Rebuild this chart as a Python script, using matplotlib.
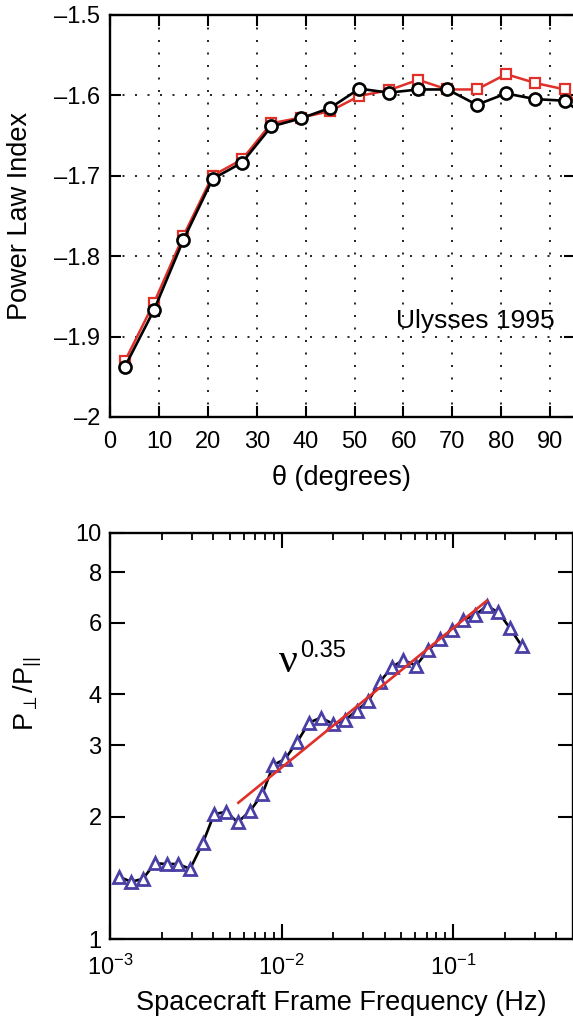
import numpy as np
import matplotlib
matplotlib.use("Agg")
import matplotlib.pyplot as plt
from matplotlib.ticker import FixedLocator, NullLocator, NullFormatter, LogLocator

plt.rcParams['font.family'] = ['Liberation Sans', 'DejaVu Sans']
plt.rcParams['mathtext.fontset'] = 'custom'
plt.rcParams['mathtext.rm'] = 'Liberation Sans'
plt.rcParams['mathtext.it'] = 'Liberation Sans:italic'

# 上段: 角度ごとのべき指数
theta = [3, 9, 15, 21, 27, 33, 39, 45, 51, 57, 63, 69, 75, 81, 87, 93, 99]
index_black = [-1.938, -1.867, -1.780, -1.704, -1.684, -1.639, -1.629, -1.616,
               -1.592, -1.597, -1.593, -1.593, -1.612, -1.598, -1.605, -1.607, -1.634]
index_red = [-1.931, -1.858, -1.775, -1.700, -1.680, -1.635, -1.628, -1.620,
             -1.601, -1.594, -1.581, -1.593, -1.593, -1.574, -1.585, -1.593, -1.637]
theta_ticks = [0, 10, 20, 30, 40, 50, 60, 70, 80, 90]
index_ticks = [-2, -1.9, -1.8, -1.7, -1.6, -1.5]
index_ticklabels = ['\u20132', '\u20131.9', '\u20131.8', '\u20131.7', '\u20131.6', '\u20131.5']

# 下段: 周波数ごとのパワー比
freq = [1.128e-3, 1.326e-3, 1.55e-3, 1.83e-3, 2.14e-3, 2.50e-3, 2.93e-3, 3.47e-3,
        4.04e-3, 4.75e-3, 5.55e-3, 6.55e-3, 7.73e-3, 8.96e-3, 1.048e-2, 1.236e-2,
        1.445e-2, 1.693e-2, 2.005e-2, 2.344e-2, 2.745e-2, 3.206e-2, 3.75e-2,
        4.39e-2, 5.13e-2, 6.08e-2, 7.18e-2, 8.40e-2, 9.82e-2, 0.1148, 0.1343,
        0.1572, 0.1837, 0.2148, 0.2512]
ratio = [1.423, 1.384, 1.405, 1.536, 1.530, 1.530, 1.487, 1.720,
         2.027, 2.058, 1.937, 2.064, 2.275, 2.681, 2.773, 3.059,
         3.407, 3.505, 3.382, 3.459, 3.647, 3.853, 4.298,
         4.664, 4.860, 4.707, 5.145, 5.470, 5.762, 6.098, 6.273,
         6.600, 6.368, 5.818, 5.262]
fit_freq = [5.6e-3, 0.1572]
fit_ratio = [2.165, 6.80]
ratio_ticks = [1, 2, 3, 4, 6, 8, 10]

RED = '#e0302a'
PURPLE = '#4a3fa5'
TICK_FS = 17
LABEL_FS = 19.5
GRID_LS = (0, (1.2, 6.3))

fig = plt.figure(figsize=(5.73, 10.23), dpi=100)

# --- 上段 ---
ax1 = fig.add_axes([0.192, 0.5924, 1.0028 - 0.192, 0.9857 - 0.5924])
ax1.plot(theta, index_red, '-s', color=RED, lw=1.8, ms=7, mfc='white',
         mec=RED, mew=1.6)
ax1.plot(theta, index_black, '-o', color='k', lw=1.9, ms=8.7, mfc='white',
         mec='k', mew=1.9)
ax1.set_xlim(0, 95)
ax1.set_ylim(-2, -1.5)
ax1.set_xticks(theta_ticks)
ax1.set_yticks(index_ticks)
ax1.set_yticklabels(index_ticklabels)
ax1.grid(True, color='k', linestyle=GRID_LS, linewidth=1.2)
ax1.tick_params(direction='in', top=True, right=True, length=8, width=1.5,
                labelsize=TICK_FS)
ax1.tick_params(axis='x', pad=10)
ax1.tick_params(axis='y', pad=7)
for s in ax1.spines.values():
    s.set_linewidth(1.7)
ax1.set_xlabel('\u03b8 (degrees)', fontsize=LABEL_FS, va='center')
ax1.xaxis.set_label_coords(0.5 * (573 - 110) / 464, -0.152)
ax1.text(-0.194, 0.5, 'Power Law Index', fontsize=LABEL_FS, rotation=90,
         ha='center', va='center', transform=ax1.transAxes)
ax1.text(91, -1.881, 'Ulysses 1995', fontsize=19, ha='right', va='center')

# --- 下段 ---
ax2 = fig.add_axes([0.192, 0.0821, 1.0 - 0.192, 0.4793 - 0.0821])
ax2.set_xscale('log')
ax2.set_yscale('log')
ax2.plot(freq, ratio, '-', color='k', lw=1.9, zorder=2)
ax2.plot(freq, ratio, '^', ls='none', ms=9, mfc='white', mec=PURPLE, mew=2.0, zorder=3)
ax2.plot(fit_freq, fit_ratio, '-', color=RED, lw=1.9, zorder=4)
ax2.set_xlim(1e-3, 0.5)
ax2.set_ylim(1, 10)
ax2.xaxis.set_major_locator(LogLocator(base=10, numticks=10))
ax2.xaxis.set_minor_locator(LogLocator(base=10, subs=np.arange(2, 10), numticks=10))
ax2.xaxis.set_minor_formatter(NullFormatter())
ax2.yaxis.set_major_locator(FixedLocator(ratio_ticks))
ax2.yaxis.set_minor_locator(NullLocator())
ax2.set_yticklabels([str(v) for v in ratio_ticks])
ax2.tick_params(which='major', direction='in', top=True, right=True, length=11,
                width=1.5, labelsize=TICK_FS)
ax2.tick_params(which='minor', direction='in', top=True, right=True, length=5,
                width=1.3)
ax2.tick_params(axis='x', which='major', pad=11)
ax2.tick_params(axis='y', which='major', pad=6)
for s in ax2.spines.values():
    s.set_linewidth(1.7)
ax2.set_xlabel('Spacecraft Frame Frequency (Hz)', fontsize=LABEL_FS, va='center')
ax2.xaxis.set_label_coords(0.5 * (573 - 110) / 463, -0.158)
ax2.text(-0.177, 0.603, r'P$_{\perp}$/P$_{||}$', fontsize=LABEL_FS, rotation=90,
         ha='center', va='center', transform=ax2.transAxes)
ax2.text(9.6e-3, 4.54, '\u03bd', fontsize=30, family='Liberation Serif',
         ha='left', va='baseline')
ax2.text(1.282e-2, 4.94, '0.35', fontsize=17, ha='left', va='baseline')

fig.savefig('out.png', dpi=100)
